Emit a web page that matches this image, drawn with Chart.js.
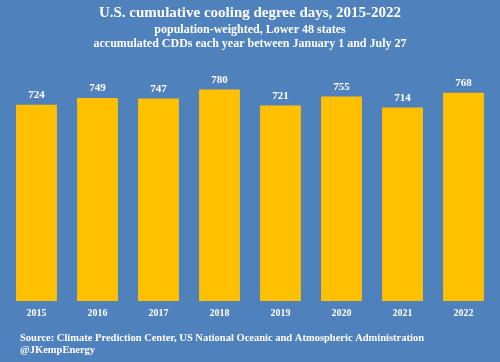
<!DOCTYPE html>
<html>
<head>
<meta charset="utf-8">
<script src="https://cdn.jsdelivr.net/npm/chart.js@4"></script>
<style>
  html, body { margin: 0; padding: 0; background: #4f81bd; }
  #wrap { width: 500px; height: 362px; }
</style>
</head>
<body>
<div id="wrap"><canvas id="chart" width="500" height="362"></canvas></div>
<script>
const years = ["2015", "2016", "2017", "2018", "2019", "2020", "2021", "2022"];
const cdds = [724, 749, 747, 780, 721, 755, 714, 768];

const serif = "'Liberation Serif', 'Times New Roman', serif";

// blue background + value labels + source note
const extras = {
  id: "extras",
  beforeDraw(chart) {
    const c = chart.ctx;
    c.save();
    c.fillStyle = "#4f81bd";
    c.fillRect(0, 0, chart.width, chart.height);
    c.restore();
  },
  afterDraw(chart) {
    const c = chart.ctx;
    const meta = chart.getDatasetMeta(0);
    c.save();
    c.fillStyle = "#ffffff";
    c.font = "bold 11px " + serif;
    c.textAlign = "center";
    c.textBaseline = "bottom";
    meta.data.forEach((bar, i) => {
      c.fillText(cdds[i], bar.x, bar.y - 4);
    });
    c.textAlign = "left";
    c.textBaseline = "middle";
    c.font = "bold 10.5px " + serif;
    c.fillText("Source: Climate Prediction Center, US National Oceanic and Atmospheric Administration", 20, 338);
    c.fillText("@JKempEnergy", 20, 350);
    c.restore();
  }
};

const data = {
  labels: years,
  datasets: [
    {
      label: "CDDs",
      backgroundColor: "#ffc000",
      data: cdds,
      categoryPercentage: 1,
      barPercentage: 0.67,
    },
  ],
};

const config = {
  type: "bar",
  data: data,
  options: {
    responsive: false,
    animation: false,
    layout: {
      padding: { left: 6, right: 6, top: 0, bottom: 37 }
    },
    scales: {
      x: {
        grid: { display: false, drawTicks: false },
        border: { display: false },
        ticks: {
          color: "#ffffff",
          padding: 6,
          font: { family: serif, size: 10, weight: "bold" }
        }
      },
      y: {
        display: false,
        min: 0,
        max: 900
      }
    },
    plugins: {
      legend: { display: false },
      tooltip: { enabled: false },
      title: {
        display: true,
        text: "U.S. cumulative cooling degree days, 2015-2022",
        color: "#ffffff",
        font: { family: serif, size: 15, weight: "bold", lineHeight: 1.2 },
        padding: { top: 4, bottom: 1 }
      },
      subtitle: {
        display: true,
        text: ["population-weighted, Lower 48 states", "accumulated CDDs each year between January 1 and July 27"],
        color: "#ffffff",
        font: { family: serif, size: 12, weight: "bold", lineHeight: 1.17 },
        padding: { top: 0, bottom: 6 }
      }
    }
  },
  plugins: [extras]
};

const ctx = document.getElementById("chart").getContext("2d");
const chart = new Chart(ctx, config);
</script>
</body>
</html>
